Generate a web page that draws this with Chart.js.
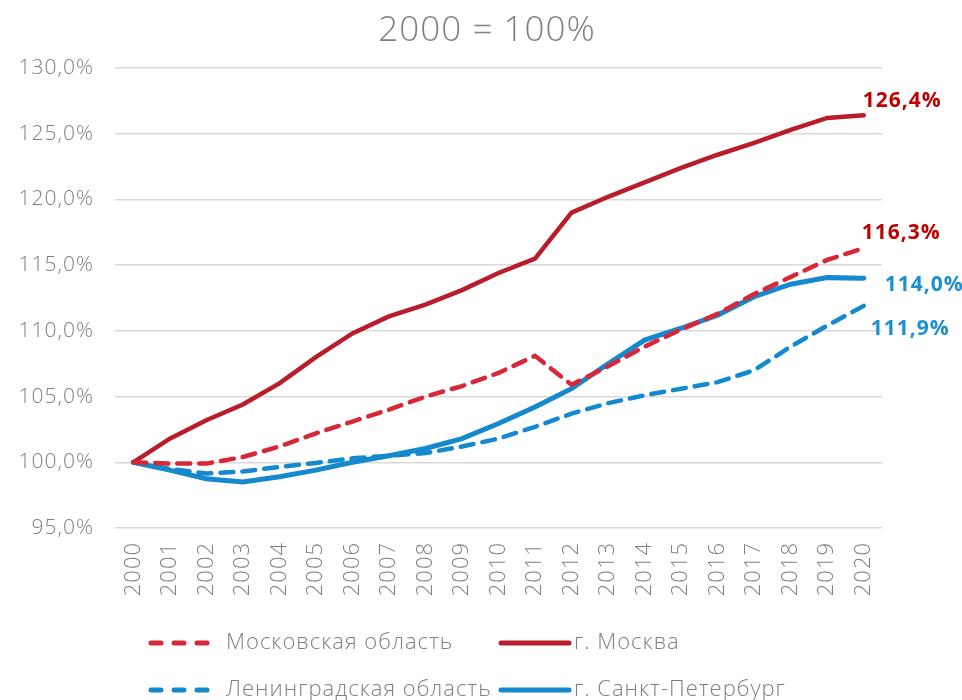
<!DOCTYPE html>
<html>
<head>
<meta charset="utf-8">
<script src="https://cdn.jsdelivr.net/npm/chart.js@4/dist/chart.umd.min.js"></script>
<style>
  html, body { margin: 0; padding: 0; background: #fff; }
  #wrap { width: 962px; height: 700px; }
</style>
</head>
<body>
<div id="wrap"><canvas id="indexChart" width="962" height="700"></canvas></div>
<script>
const years = ['2000','2001','2002','2003','2004','2005','2006','2007','2008','2009','2010',
  '2011','2012','2013','2014','2015','2016','2017','2018','2019','2020'];

const moscowRegion = [100, 99.9, 99.9, 100.4, 101.2, 102.2, 103.1, 104.0, 105.0, 105.8, 106.8,
  108.1, 105.9, 107.3, 108.8, 110.1, 111.3, 112.8, 114.1, 115.4, 116.3];
const moscowCity = [100, 101.8, 103.2, 104.4, 106.0, 108.0, 109.8, 111.1, 112.0, 113.1, 114.4,
  115.5, 119.0, 120.2, 121.3, 122.4, 123.4, 124.3, 125.3, 126.2, 126.4];
const leningradRegion = [100, 99.5, 99.15, 99.3, 99.65, 99.95, 100.3, 100.5, 100.7, 101.2, 101.8,
  102.7, 103.7, 104.5, 105.1, 105.6, 106.1, 107.0, 108.8, 110.4, 111.9];
const spbCity = [100, 99.4, 98.75, 98.5, 98.9, 99.4, 100.0, 100.5, 101.05, 101.8, 102.95,
  104.2, 105.6, 107.5, 109.3, 110.2, 111.2, 112.6, 113.55, 114.05, 114.0];

const yTicks = [95, 100, 105, 110, 115, 120, 125, 130];

const RED_DASH = '#d62839';
const RED_SOLID = '#b91c2b';
const BLUE = '#1489cd';
const GREY = '#7f7f7f';
const FONT = '"Open Sans", "Noto Sans", sans-serif';

function fmt(v, digits) {
  return v.toFixed(digits).replace('.', ',') + '%';
}

// the original font is wider, so spread the letters a little
const spacing = {
  id: 'spacing',
  beforeLayout(chart) { chart.ctx.letterSpacing = '1px'; },
  beforeDraw(chart) { chart.ctx.letterSpacing = '1px'; }
};

// end-of-line value labels, title and the two-row legend
const extras = {
  id: 'extras',
  afterDatasetsDraw(chart) {
    const ctx = chart.ctx;
    const xs = chart.scales.x, ys = chart.scales.y;
    const last = years.length - 1;
    const ends = [
      { data: moscowCity, color: '#c00000', dx: -1, dy: -14 },
      { data: moscowRegion, color: '#c00000', dx: -2, dy: -15 },
      { data: spbCity, color: '#1a8fd4', dx: 21, dy: 7 },
      { data: leningradRegion, color: '#1a8fd4', dx: 7, dy: 23 }
    ];
    ctx.save();
    ctx.letterSpacing = '1px';
    ctx.font = 'bold 21px ' + FONT;
    ctx.textBaseline = 'middle';
    ctx.textAlign = 'left';
    ends.forEach(e => {
      const v = e.data[last];
      ctx.fillStyle = e.color;
      ctx.fillText(fmt(v, 1), xs.getPixelForValue(last) + e.dx, ys.getPixelForValue(v) + e.dy);
    });

    // title
    ctx.fillStyle = GREY;
    ctx.font = '300 35px ' + FONT;
    ctx.textAlign = 'center';
    ctx.fillText('2000 = 100%', 487, 31);

    // legend
    const items = [
      { label: 'Московская область', color: RED_DASH, dash: true, x: 148, y: 643 },
      { label: 'г. Москва', color: RED_SOLID, dash: false, x: 498, y: 643 },
      { label: 'Ленинградская область', color: BLUE, dash: true, x: 148, y: 690 },
      { label: 'г. Санкт-Петербург', color: BLUE, dash: false, x: 498, y: 690 }
    ];
    ctx.font = '300 22px ' + FONT;
    ctx.textAlign = 'left';
    items.forEach(it => {
      ctx.strokeStyle = it.color;
      ctx.lineWidth = 5;
      ctx.lineCap = 'round';
      ctx.setLineDash(it.dash ? [10, 13] : []);
      ctx.beginPath();
      ctx.moveTo(it.x + 3, it.y);
      ctx.lineTo(it.x + (it.dash ? 62 : 71), it.y);
      ctx.stroke();
      ctx.setLineDash([]);
      ctx.fillStyle = GREY;
      ctx.fillText(it.label, it.x + (it.dash ? 78 : 76), it.y);
    });
    ctx.restore();
  }
};

new Chart(document.getElementById('indexChart'), {
  type: 'line',
  data: {
    labels: years,
    datasets: [
      { label: 'Московская область', data: moscowRegion, borderColor: RED_DASH, borderDash: [13, 9], borderWidth: 4.5, borderCapStyle: 'round' },
      { label: 'г. Москва', data: moscowCity, borderColor: RED_SOLID, borderWidth: 4.5, borderCapStyle: 'round' },
      { label: 'Ленинградская область', data: leningradRegion, borderColor: BLUE, borderDash: [13, 9], borderWidth: 4.5, borderCapStyle: 'round' },
      { label: 'г. Санкт-Петербург', data: spbCity, borderColor: BLUE, borderWidth: 5, borderCapStyle: 'round' }
    ]
  },
  options: {
    responsive: false,
    animation: false,
    pointRadius: 0,
    tension: 0,
    layout: { padding: { top: 68, right: 80, left: 0, bottom: 0 } },
    plugins: {
      legend: { display: false },
      tooltip: { enabled: false },
      title: { display: false }
    },
    scales: {
      x: {
        offset: true,
        grid: { display: false, drawTicks: false },
        border: { display: false },
        ticks: {
          color: GREY,
          font: { family: FONT, size: 22, weight: 300 },
          minRotation: 90,
          maxRotation: 90,
          autoSkip: false,
          padding: 14
        },
        afterFit: (s) => { s.height = 172; }
      },
      y: {
        min: 95,
        max: 130,
        afterBuildTicks: (s) => { s.ticks = yTicks.map(v => ({ value: v })); },
        grid: { color: '#d9d9d9', lineWidth: 1.5, drawTicks: false },
        border: { display: false },
        ticks: {
          color: GREY,
          font: { family: FONT, size: 21, weight: 300 },
          padding: 21,
          callback: (v) => fmt(v, 1)
        },
        afterFit: (s) => { s.width = 115; }
      }
    }
  },
  plugins: [spacing, extras]
});
</script>
</body>
</html>
